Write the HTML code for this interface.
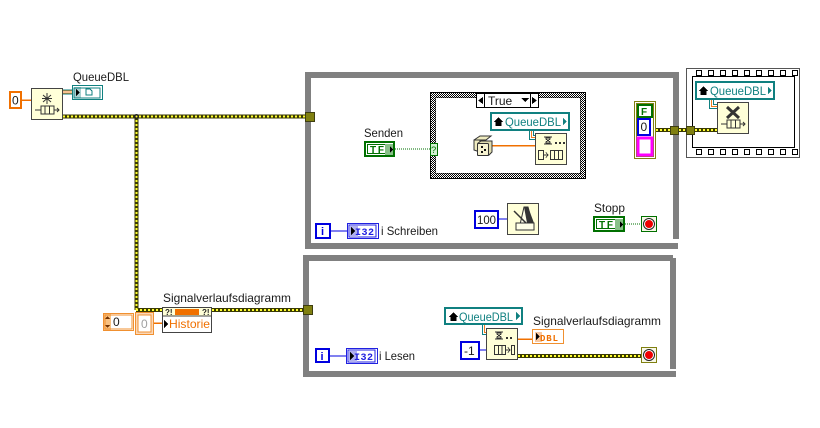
<!DOCTYPE html>
<html><head><meta charset="utf-8"><style>
html,body{margin:0;padding:0;background:#fff}
svg{display:block}
text{font-family:"Liberation Sans",sans-serif;font-size:12px;fill:#1a1a1a}
</style></head><body>
<svg width="820" height="428" viewBox="0 0 820 428" xmlns="http://www.w3.org/2000/svg" shape-rendering="crispEdges">
<defs>
<pattern id="hatch" width="2" height="2" patternUnits="userSpaceOnUse"><rect width="2" height="2" fill="#fff"/><rect width="1" height="1" fill="#000"/><rect x="1" y="1" width="1" height="1" fill="#000"/></pattern>
</defs>

<!-- loops -->
<path d="M308 246V75H676V239" fill="none" stroke="#808080" stroke-width="6"/>
<path d="M305 246H678" fill="none" stroke="#808080" stroke-width="6"/>
<path d="M306 374V258H673M673 258V369" fill="none" stroke="#808080" stroke-width="6"/>
<path d="M303 374H676" fill="none" stroke="#808080" stroke-width="6"/>

<!-- Case structure -->
<rect x="433" y="95" width="150" height="81" fill="#fff" stroke="url(#hatch)" stroke-width="6"/>
<rect x="430.500" y="92.500" width="155" height="86" fill="none" stroke="#000"/>
<rect x="435.500" y="97.500" width="145" height="76" fill="none" stroke="#000" stroke-width=".5"/>

<!-- Flat sequence -->
<rect x="686.500" y="68.500" width="113" height="89" fill="#fff" stroke="#555"/>
<rect x="692.500" y="76.500" width="102" height="71" fill="#fff" stroke="#000" stroke-width="1"/>
<g fill="#fff" stroke="#000">
<rect x="696.500" y="70.500" width="5" height="5"/><rect x="708.500" y="70.500" width="5" height="5"/><rect x="720.500" y="70.500" width="5" height="5"/><rect x="732.500" y="70.500" width="5" height="5"/><rect x="744.500" y="70.500" width="5" height="5"/><rect x="756.500" y="70.500" width="5" height="5"/><rect x="768.500" y="70.500" width="5" height="5"/><rect x="780.500" y="70.500" width="5" height="5"/><rect x="792.500" y="70.500" width="5" height="5"/>
<rect x="696.500" y="149.500" width="5" height="5"/><rect x="708.500" y="149.500" width="5" height="5"/><rect x="720.500" y="149.500" width="5" height="5"/><rect x="732.500" y="149.500" width="5" height="5"/><rect x="744.500" y="149.500" width="5" height="5"/><rect x="756.500" y="149.500" width="5" height="5"/><rect x="768.500" y="149.500" width="5" height="5"/><rect x="780.500" y="149.500" width="5" height="5"/><rect x="792.500" y="149.500" width="5" height="5"/>
</g>

<!-- wires -->
<g fill="none">
<path d="M63 116.500H305M136.500 116V310M136 310H162M212 310H305" stroke="#3a3a00" stroke-width="4"/>
<path d="M63 116.500H305M136.500 116V310M136 310H162M212 310H305" stroke="#ffff30" stroke-width="2" stroke-dasharray="2 2"/>
<path d="M518 356H641M656 130H670M679 130H686M695 130H717" stroke="#3a3a00" stroke-width="4"/>
<path d="M518 356H641M656 130H670M679 130H686M695 130H717" stroke="#ffff30" stroke-width="2" stroke-dasharray="2 2"/>
<path d="M22 100H31M492 145.500H535M154 323H162M518 339H532" stroke="#f07000" stroke-width="1.500"/>
<path d="M63 91H72M63 93H72" stroke="#f08020" stroke-width="1"/>
<path d="M63 90H72M63 94H72" stroke="#108080" stroke-width="1"/>
<path d="M331 231H347M330 356H346M499 219H507M480 350H486" stroke="#0000e0" stroke-width="1.300"/>
<path d="M395 149H430M625 224H641" stroke="#007000" stroke-width="1" stroke-dasharray="1 1"/>
<path d="M529.500 131V139.500H535M709.500 100V108.500H717M482.500 325V334.500H486" stroke="#108080" stroke-width="1"/>
<path d="M531.500 131V137.500H535M711.500 100V106.500H717M484.500 325V332.500H486" stroke="#f08020" stroke-width="1"/>
<path d="M533.500 131V135.500H535M713.500 100V104.500H717" stroke="#108080" stroke-width="1"/>
</g>
<circle cx="136.500" cy="116.500" r="2.500" fill="#222" shape-rendering="auto"/>
<circle cx="136.500" cy="116.500" r="1" fill="#ffff30" shape-rendering="auto"/>

<!-- tunnels -->
<g fill="#808010" stroke="#3e3e10">
<rect x="305.500" y="112.500" width="9" height="9"/>
<rect x="303.500" y="305.500" width="9" height="9"/>
<rect x="670.500" y="126.500" width="8" height="8"/>
<rect x="686.500" y="126.500" width="8" height="8"/>
</g>

<!-- Const 0 -->
<rect x="10" y="92" width="11" height="16" fill="#fff" stroke="#f07000" stroke-width="2"/>
<text x="12" y="104.500">0</text>

<!-- Obtain queue -->
<rect x="31.500" y="88.500" width="31" height="31" fill="#ffffd8" stroke="#444"/>
<g stroke="#333" fill="none" shape-rendering="auto">
<path d="M47 93V104M42 98.500H52M43 95L51 102M51 95L43 102"/>
<rect x="41" y="106" width="13" height="8"/>
<path d="M45 106V114M49.500 106V114M35 110H41M54 110H59M57 108L59 110L57 112"/>
</g>

<!-- QueueDBL control -->
<text x="73" y="81" textLength="56" lengthAdjust="spacingAndGlyphs">QueueDBL</text>
<rect x="72.500" y="85.500" width="30" height="14" fill="#fff" stroke="#108080" stroke-width="1"/>
<rect x="74" y="87" width="7" height="11" fill="#a8d0d0"/>
<rect x="74" y="88" width="26" height="10" fill="none" stroke="#108080"/>
<path d="M76 89L80 92.500L76 96Z" fill="#000"/>
<path d="M86 89H90L92 91V95H86Z" fill="#fff" stroke="#108080"/>

<!-- Senden -->
<text x="364" y="137" textLength="39" lengthAdjust="spacingAndGlyphs">Senden</text>
<rect x="365" y="142" width="29" height="14" fill="#fff" stroke="#007000" stroke-width="2"/>
<rect x="367.500" y="144.500" width="20" height="9" fill="none" stroke="#007000"/>
<text x="370" y="153" style="font-size:10px;font-weight:bold;fill:#007000" textLength="14">TF</text>
<rect x="385" y="144" width="8" height="11" fill="#88c088"/>
<path d="M390 146L393 149.500L390 153Z" fill="#000"/>

<rect x="476.500" y="93.500" width="62" height="14" fill="#fff" stroke="#000"/>
<path d="M484.500 94V107M530.500 94V107" stroke="#000"/>
<path d="M483 97L478 100.500L483 104ZM532 97L537 100.500L532 104Z" fill="#000"/>
<text x="488" y="105">True</text>
<path d="M521 98H529L525 102Z" fill="#000"/>
<rect x="430.500" y="143.500" width="7" height="12" fill="#d0f0d0" stroke="#007000"/>
<text x="431" y="153" style="font-size:9.500px;fill:#007000">?</text>

<!-- Dice -->
<g stroke="#333" fill="#f0ecc0" shape-rendering="auto">
<path d="M474 140L480 136H491L486 140H474V150L480 152V140" />
<rect x="477.500" y="143.500" width="11" height="12" rx="1" fill="#f6f2d0"/>
<path d="M477.500 143.500L481 141H492V152L488.500 155.500" fill="#e0dcb0"/>
<rect x="477.500" y="143.500" width="11" height="12" rx="1" fill="#f6f2d0"/>
</g>
<g fill="#111"><rect x="481" y="146" width="2" height="2"/><rect x="484" y="149" width="2" height="2"/><rect x="481" y="151" width="2" height="2"/></g>

<!-- Const QueueDBL 1 -->
<rect x="491" y="113" width="78" height="17" fill="#fff" stroke="#108080" stroke-width="2"/>
<path d="M494 122L498.500 117L503 122H501.500V126H495.500V122Z" fill="#000"/>
<text x="505" y="126" style="fill:#108080" textLength="56" lengthAdjust="spacingAndGlyphs">QueueDBL</text>
<path d="M563 118L567 121.500L563 125Z" fill="#108080"/>

<!-- Enqueue node -->
<rect x="535.500" y="133.500" width="31" height="31" fill="#ffffd8" stroke="#444"/>
<g stroke="#333" fill="none">
<path d="M544 137H552M544 144H552M546 138H550V139L548 140.500L546 139ZM546 143H550V142L548 140.500L546 142Z"/>
<path d="M555 143H557M559 143H561M563 143H565" stroke-width="2"/>
<rect x="550.500" y="150.500" width="12" height="9"/>
<path d="M554.500 150V160M558.500 150V160"/>
<path d="M538.500 150.500H543.500V159.500H538.500ZM543 155H548M546 152.500L548 155L546 157.500"/>
</g>

<!-- Cluster const -->
<rect x="634.500" y="101.500" width="21" height="57" fill="#fff" stroke="#808010"/>
<rect x="636.500" y="103.500" width="17" height="53" fill="none" stroke="#808010"/>
<rect x="638" y="105" width="14" height="12" fill="#fff" stroke="#007000" stroke-width="2"/>
<text x="641" y="115" style="font-size:10px;font-weight:bold;fill:#007000">F</text>
<rect x="638" y="119" width="12" height="16" fill="#fff" stroke="#0000e0" stroke-width="2"/>
<text x="640.500" y="131">0</text>
<rect x="638" y="138" width="14" height="17" fill="#fff" stroke="#ff00ff" stroke-width="3"/>

<rect x="696" y="82" width="78" height="17" fill="#fff" stroke="#108080" stroke-width="2"/>
<path d="M699 91L703.500 86L708 91H706.500V95H700.500V91Z" fill="#000"/>
<text x="710" y="95" style="fill:#108080" textLength="56" lengthAdjust="spacingAndGlyphs">QueueDBL</text>
<path d="M768 87L772 90.500L768 94Z" fill="#108080"/>

<!-- Release node -->
<rect x="717.500" y="102.500" width="31" height="31" fill="#ffffd8" stroke="#444"/>
<g fill="none" shape-rendering="auto">
<path d="M727 107L739 118M739 107L727 118" stroke="#333" stroke-width="3"/>
<g stroke="#333"><rect x="727" y="120" width="13" height="8"/><path d="M731 120V128M735.500 120V128M721 124H727M740 124H745M743 122L745 124L743 126"/></g>
</g>

<!-- Bottom row loop 1 -->
<rect x="316" y="224" width="14" height="14" fill="#fff" stroke="#0000e0" stroke-width="2"/>
<text x="321" y="235" style="fill:#0000e0;font-size:11px;font-weight:bold">i</text>
<rect x="347.500" y="223.500" width="31" height="15" fill="#fff" stroke="#2020e0"/>
<rect x="349" y="225" width="27" height="12" fill="none" stroke="#2020e0"/>
<rect x="350" y="226" width="8" height="11" fill="#b0b0f0"/>
<path d="M351 227L355 231L351 235Z" fill="#000"/>
<text x="355" y="235" style="font-size:10px;font-weight:bold;fill:#2020e0;font-family:'Liberation Mono',monospace" textLength="19">I32</text>
<text x="381" y="235" textLength="57" lengthAdjust="spacingAndGlyphs">i Schreiben</text>

<rect x="475" y="211" width="23" height="17" fill="#fff" stroke="#0000e0" stroke-width="2"/>
<text x="477" y="224" textLength="19" lengthAdjust="spacingAndGlyphs">100</text>

<!-- Timer -->
<rect x="507.500" y="203.500" width="31" height="31" fill="#ffffd8" stroke="#444"/>
<path d="M519 229L524 207H528L534 229Z" fill="#ffffe8" stroke="#333" shape-rendering="auto"/>
<path d="M524 207H528L534 223H527Z" fill="#333" shape-rendering="auto"/>
<path d="M514 211L526 223" stroke="#333" stroke-width="1.500" shape-rendering="auto"/>
<rect x="516" y="223" width="18" height="7" fill="#ffffe8" stroke="#333"/>

<!-- Stopp -->
<text x="594" y="212" textLength="31" lengthAdjust="spacingAndGlyphs">Stopp</text>
<rect x="594" y="217" width="30" height="14" fill="#fff" stroke="#007000" stroke-width="2"/>
<rect x="596.500" y="219.500" width="20" height="9" fill="none" stroke="#007000"/>
<text x="599" y="228" style="font-size:10px;font-weight:bold;fill:#007000" textLength="14">TF</text>
<rect x="615" y="219" width="8" height="11" fill="#88c088"/>
<path d="M620 221L623 224.500L620 228Z" fill="#000"/>
<rect x="641.500" y="216.500" width="15" height="15" fill="#f8f8e8" stroke="#007000"/>
<circle cx="649" cy="224" r="5.500" fill="#fff" stroke="#222" shape-rendering="auto"/>
<circle cx="649" cy="224" r="4" fill="#f00000" shape-rendering="auto"/>

<!-- Left bottom -->
<rect x="103.500" y="313.500" width="30" height="17" fill="#fff" stroke="#f09030"/>
<rect x="104" y="314" width="7" height="16" fill="#f8c080"/>
<path d="M107.500 316L110 319H105ZM107.500 328L110 325H105Z" fill="#703000"/>
<rect x="105" y="315" width="27" height="14" fill="none" stroke="#f09030"/>
<text x="113" y="326">0</text>
<rect x="135.500" y="312.500" width="18" height="22" fill="#fbd8b8" stroke="#f09030"/>
<rect x="138" y="315" width="13" height="17" fill="#fff" stroke="#f09030"/>
<text x="141" y="328" style="fill:#a0a0a0">0</text>

<text x="163" y="302" textLength="128" lengthAdjust="spacingAndGlyphs">Signalverlaufsdiagramm</text>
<rect x="162.500" y="307.500" width="49" height="25" fill="#fff" stroke="#444"/>
<rect x="163" y="308" width="48" height="8" fill="#ffffd8"/>
<path d="M163 316H211" stroke="#444"/>
<rect x="175" y="309" width="24" height="6" fill="#f07000"/>
<text x="165" y="315" style="font-size:8px;font-weight:bold;fill:#222">?!</text>
<text x="202" y="315" style="font-size:8px;font-weight:bold;fill:#222">?!</text>
<path d="M164 320L168 324L164 328Z" fill="#000"/>
<text x="169" y="328" style="fill:#f07000" textLength="41" lengthAdjust="spacingAndGlyphs">Historie</text>

<!-- Loop 2 -->
<rect x="316" y="349" width="13" height="13" fill="#fff" stroke="#0000e0" stroke-width="2"/>
<text x="320.500" y="360" style="fill:#0000e0;font-size:11px;font-weight:bold">i</text>
<rect x="346.500" y="348.500" width="31" height="15" fill="#fff" stroke="#2020e0"/>
<rect x="348" y="350" width="27" height="12" fill="none" stroke="#2020e0"/>
<rect x="349" y="351" width="8" height="11" fill="#b0b0f0"/>
<path d="M350 352L354 356L350 360Z" fill="#000"/>
<text x="354" y="360" style="font-size:10px;font-weight:bold;fill:#2020e0;font-family:'Liberation Mono',monospace" textLength="19">I32</text>
<text x="379" y="360" textLength="36" lengthAdjust="spacingAndGlyphs">i Lesen</text>

<rect x="445" y="308" width="77" height="16" fill="#fff" stroke="#108080" stroke-width="2"/>
<path d="M449 317L453.500 312L458 317H456.500V321H450.500V317Z" fill="#000"/>
<text x="459" y="321" style="fill:#108080" textLength="54" lengthAdjust="spacingAndGlyphs">QueueDBL</text>
<path d="M516 312L520 316L516 320Z" fill="#108080"/>

<rect x="461" y="342" width="18" height="17" fill="#fff" stroke="#0000e0" stroke-width="2"/>
<text x="464" y="355">-1</text>

<rect x="486.500" y="328.500" width="31" height="31" fill="#ffffd8" stroke="#444"/>
<g stroke="#333" fill="none">
<path d="M495 332H503M495 339H503M497 333H501V334L499 335.500L497 334ZM497 338H501V337L499 335.500L497 337Z"/>
<path d="M506 338H508M510 338H512" stroke-width="2"/>
<rect x="494.500" y="345.500" width="11" height="9"/>
<path d="M498.500 345V355M502 345V355M505 350H510M508 347.500L510 350L508 352.500"/>
<rect x="511.500" y="345.500" width="3" height="9"/>
</g>

<text x="533" y="325" textLength="128" lengthAdjust="spacingAndGlyphs">Signalverlaufsdiagramm</text>
<rect x="532.500" y="329.500" width="31" height="14" fill="#fff" stroke="#f09030"/>
<rect x="535" y="332" width="7" height="10" fill="#f8c8a0"/>
<path d="M536 333L540 336.500L536 340Z" fill="#000"/>
<text x="540" y="341" style="font-size:9px;font-weight:bold;fill:#f07000;font-family:'Liberation Mono',monospace" textLength="18">DBL</text>

<rect x="641.500" y="347.500" width="15" height="15" fill="#f8f8e8" stroke="#808010"/>
<circle cx="649" cy="355" r="5.500" fill="#fff" stroke="#222" shape-rendering="auto"/>
<circle cx="649" cy="355" r="4" fill="#f00000" shape-rendering="auto"/>
</svg>
</body></html>
